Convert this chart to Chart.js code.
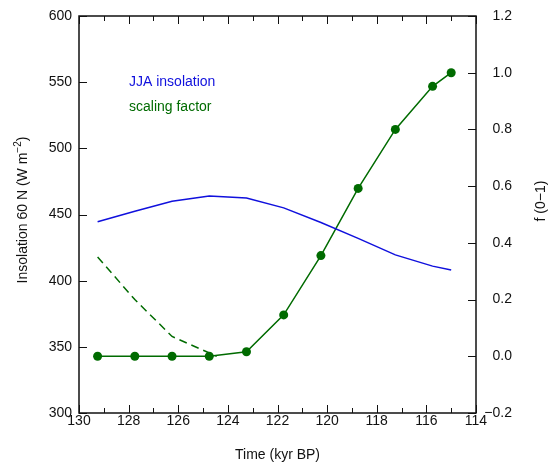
<!DOCTYPE html>
<html>
<head>
<meta charset="utf-8">
<script src="https://cdn.jsdelivr.net/npm/chart.js@4"></script>
<style>
  body { margin: 0; background: #fff; }
  canvas { display: block; }
</style>
</head>
<body>
<canvas id="chart" width="549" height="466"></canvas>
<script>
// values
const timeKyr = [129.25, 127.75, 126.25, 124.75, 123.25, 121.75, 120.25, 118.75, 117.25, 115.75, 115.0];
const insolation = [444.5, 452.5, 460, 464, 462.5, 455, 444, 432, 419.5, 411, 408];
const scaling = [0, 0, 0, 0, 0.016, 0.146, 0.355, 0.592, 0.8, 0.952, 1.0];
const dashedTime = [129.25, 127.75, 126.25, 124.45];
const dashedScaling = [0.35, 0.2, 0.07, 0.0];

const blue = "#1010dd";
const green = "#006b00";
const fontFamily = "'Liberation Sans', Arial, sans-serif";
const fs = 14;

Chart.defaults.font.family = fontFamily;
Chart.defaults.color = "#111";

const toPoints = (xs, ys) => xs.map((x, i) => ({ x: x, y: ys[i] }));
const fmtRight = v => {
  const r = Math.round(v * 10) / 10;
  return (Math.abs(r) < 1e-9 ? 0 : r).toFixed(1).replace("-", "\u2212");
};

// frame, inward tick marks, right tick labels, in-plot legend text, y axis titles
const frameAndLabels = {
  id: "frameAndLabels",
  afterDatasetsDraw(chart) {
    const ctx = chart.ctx;
    const a = chart.chartArea;
    const xs = chart.scales.x;
    ctx.save();
    ctx.strokeStyle = "#111";
    ctx.lineWidth = 1.5;
    ctx.strokeRect(a.left, a.top, a.right - a.left, a.bottom - a.top);
    ctx.lineWidth = 1;
    ctx.beginPath();
    for (let v = 114; v <= 130; v++) {
      const px = Math.round(xs.getPixelForValue(v)) + 0.5;
      const len = v % 2 === 0 ? 8 : 5;
      ctx.moveTo(px, a.bottom); ctx.lineTo(px, a.bottom - len);
      ctx.moveTo(px, a.top); ctx.lineTo(px, a.top + len);
    }
    chart.scales.y.ticks.forEach(t => {
      const py = Math.round(chart.scales.y.getPixelForValue(t.value)) + 0.5;
      ctx.moveTo(a.left, py); ctx.lineTo(a.left + 8, py);
    });
    chart.scales.y1.ticks.forEach(t => {
      const py = Math.round(chart.scales.y1.getPixelForValue(t.value)) + 0.5;
      ctx.moveTo(a.right, py); ctx.lineTo(a.right - 8, py);
    });
    ctx.stroke();
    ctx.restore();
  },
  afterDraw(chart) {
    const ctx = chart.ctx;
    const a = chart.chartArea;
    const ds = chart.data.datasets;
    const font = fs + "px " + fontFamily;
    ctx.save();
    ctx.font = font;
    ctx.textBaseline = "middle";

    // right axis labels, right aligned
    ctx.fillStyle = "#111";
    ctx.textAlign = "right";
    chart.scales.y1.ticks.forEach(t => {
      ctx.fillText(fmtRight(t.value), a.right + 36, chart.scales.y1.getPixelForValue(t.value));
    });

    ctx.textAlign = "left";
    ctx.fillStyle = ds[0].borderColor;
    ctx.fillText(ds[0].label, 129, 82);
    ctx.fillStyle = ds[1].borderColor;
    ctx.fillText(ds[1].label, 129, 107);

    // left title with superscript
    ctx.fillStyle = "#111";
    ctx.translate(23, 210);
    ctx.rotate(-Math.PI / 2);
    const main = "Insolation 60 N (W m";
    const sup = "\u22122";
    const close = ")";
    const supFont = "10px " + fontFamily;
    ctx.font = font;
    const w1 = ctx.measureText(main).width;
    const w3 = ctx.measureText(close).width;
    ctx.font = supFont;
    const w2 = ctx.measureText(sup).width;
    const x0 = -(w1 + w2 + w3) / 2;
    ctx.font = font;
    ctx.fillText(main, x0, 0);
    ctx.font = supFont;
    ctx.fillText(sup, x0 + w1, -5);
    ctx.font = font;
    ctx.fillText(close, x0 + w1 + w2, 0);
    ctx.restore();

    ctx.save();
    ctx.fillStyle = "#111";
    ctx.font = font;
    ctx.textAlign = "center";
    ctx.textBaseline = "middle";
    ctx.translate(541, 201);
    ctx.rotate(-Math.PI / 2);
    ctx.fillText("f (0\u22121)", 0, 0);
    ctx.restore();
  }
};

new Chart(document.getElementById("chart"), {
  type: "line",
  data: {
    datasets: [
      {
        label: "JJA insolation",
        data: toPoints(timeKyr, insolation),
        yAxisID: "y",
        borderColor: blue,
        borderWidth: 1.5,
        pointRadius: 0,
        fill: false,
      },
      {
        label: "scaling factor",
        data: toPoints(timeKyr, scaling),
        yAxisID: "y1",
        borderColor: green,
        backgroundColor: green,
        borderWidth: 1.5,
        pointRadius: 4.5,
        pointBorderWidth: 0,
        pointBackgroundColor: green,
        fill: false,
      },
      {
        label: "scaling factor (dashed)",
        data: toPoints(dashedTime, dashedScaling),
        yAxisID: "y1",
        borderColor: green,
        borderWidth: 1.5,
        borderDash: [8, 5],
        pointRadius: 0,
        fill: false,
      },
    ],
  },
  options: {
    responsive: false,
    animation: false,
    devicePixelRatio: 1,
    layout: { padding: { top: 16, left: 0, right: 0, bottom: 0 } },
    plugins: { legend: { display: false }, tooltip: { enabled: false } },
    scales: {
      x: {
        type: "linear",
        reverse: true,
        min: 114,
        max: 130,
        grid: { display: false, drawTicks: false },
        border: { display: false },
        ticks: { stepSize: 2, padding: 0, font: { size: fs }, maxRotation: 0 },
        title: { display: true, text: "Time (kyr BP)", font: { size: fs }, padding: { top: 0, bottom: 2 } },
        afterFit: s => { s.height = 53; },
      },
      y: {
        position: "left",
        min: 300,
        max: 600,
        grid: { display: false, drawTicks: false },
        border: { display: false },
        ticks: { stepSize: 50, padding: 7, font: { size: fs } },
        afterFit: s => { s.width = 79; },
      },
      y1: {
        position: "right",
        min: -0.2,
        max: 1.2,
        grid: { display: false, drawTicks: false },
        border: { display: false },
        ticks: { stepSize: 0.2, display: false, callback: fmtRight },
        afterFit: s => { s.width = 73; },
      },
    },
  },
  plugins: [frameAndLabels],
});
</script>
</body>
</html>
